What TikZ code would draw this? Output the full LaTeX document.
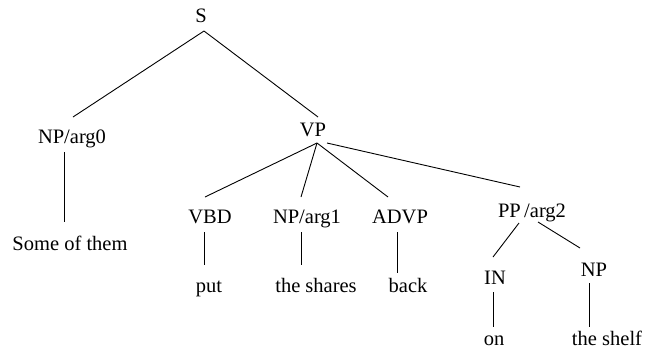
\documentclass[tikz,border=0pt]{standalone}
\usepackage{fontspec}
\setmainfont{Liberation Serif}
\usepackage{tikz}

\begin{document}
\begin{tikzpicture}[x=1pt,y=-1pt,every node/.style={anchor=base,inner sep=0pt,font=\fontsize{20.5}{24}\selectfont},line width=0.9pt]
\useasboundingbox (0,0) rectangle (645,349);
    \node (S) at (201,22) {S};
    \node (NParg0) at (72,143) {NP/arg0};
    \node (VP) at (313,136) {VP};
    \node (Some) at (70,250) {Some of them};
    \node (VBD) at (210,223) {VBD};
    \node (NParg1) at (307,223) {NP/arg1};
    \node (ADVP) at (400,223) {ADVP};
    \node (PParg2) at (532,217) {PP\,/arg2};
    \node (Put) at (209,292) {put};
    \node (Shares) at (316,292) {the shares};
    \node (Back) at (408,292) {back};
    \node (IN) at (495,284) {IN};
    \node (NP) at (594,276) {NP};
    \node (On) at (494,345) {on};
    \node (Shelf) at (607,345) {the shelf};
    \draw ([shift={(3,9)}]S.base) -- ([shift={(1,-26)}]NParg0.base);
    \draw ([shift={(3,9)}]S.base) -- ([shift={(5,-19)}]VP.base);
    \draw ([shift={(-8,9)}]NParg0.base) -- ([shift={(-6,-28)}]Some.base);
    \draw ([shift={(4,7)}]VP.base) -- ([shift={(-5,-26)}]VBD.base);
    \draw ([shift={(4,7)}]VP.base) -- ([shift={(-6,-26)}]NParg1.base);
    \draw ([shift={(4,7)}]VP.base) -- ([shift={(-12,-26)}]ADVP.base);
    \draw ([shift={(14,7)}]VP.base) -- ([shift={(-12,-30)}]PParg2.base);
    \draw ([shift={(-6,9)}]VBD.base) -- ([shift={(-5,-27)}]Put.base);
    \draw ([shift={(-6,9)}]NParg1.base) -- ([shift={(-15,-27)}]Shares.base);
    \draw ([shift={(-3,9)}]ADVP.base) -- ([shift={(-11,-19)}]Back.base);
    \draw ([shift={(-13,6)}]PParg2.base) -- ([shift={(-2,-27)}]IN.base);
    \draw ([shift={(6,5)}]PParg2.base) -- ([shift={(-14,-28)}]NP.base);
    \draw ([shift={(-2,8)}]IN.base) -- ([shift={(-1,-18)}]On.base);
    \draw ([shift={(-5,7)}]NP.base) -- ([shift={(-18,-18)}]Shelf.base);
\end{tikzpicture}
\end{document}
